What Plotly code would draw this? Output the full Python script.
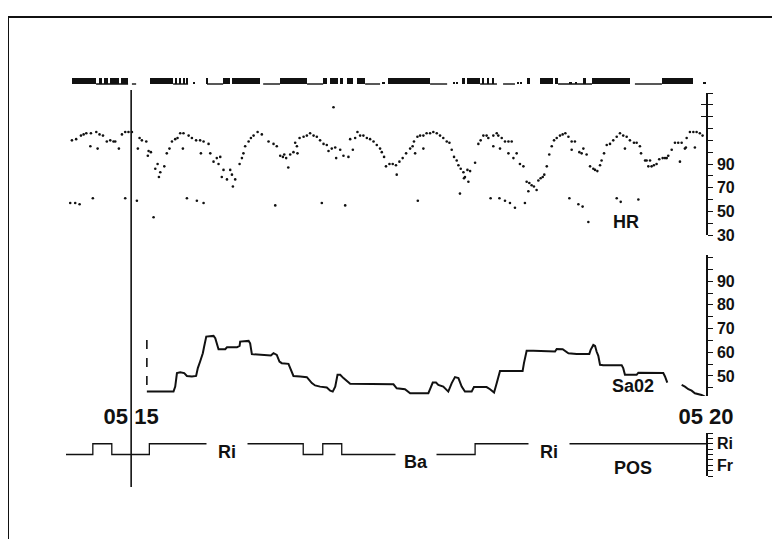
import plotly.graph_objects as go

# ---------------- DATA (time in seconds after 05:15:00) ----------------
time_ticks = [0, 300]
time_labels = ["05 15", "05 20"]

# event marker row: solid blocks, short marks, thin baseline pieces (start, end)
ev_blocks = [(-30.8, -18.3), (-16.7, -15.1), (-14.1, -12.0), (-11.0, -6.3), (-5.2, -1.6),
             (9.9, 21.9), (23.0, 24.0), (25.0, 26.1), (27.1, 28.2), (28.7, 29.7),
             (39.5, 40.2), (48.0, 51.6), (52.7, 67.3), (77.7, 91.8),
             (100.2, 102.3), (103.8, 108.0), (109.0, 110.6), (112.7, 115.8), (117.9, 122.1),
             (134.1, 156.0), (172.7, 174.2), (175.3, 182.1), (183.1, 184.1), (185.7, 186.8),
             (188.3, 189.4), (206.6, 208.2), (213.4, 220.1), (221.2, 222.8), (235.8, 237.4),
             (240.5, 260.3), (277.0, 293.2)]
ev_marks = [(32.3, 33.4), (130.9, 132.5), (168.0, 169.0), (169.6, 170.6), (201.4, 202.4),
            (202.9, 204.0), (229.0, 230.0), (231.6, 232.7), (298.4, 300.5)]
ev_base = [(-18.3, -1.6), (0.4, 2.6), (21.9, 29.7), (39.6, 48.0), (68.9, 77.7), (91.8, 100.2),
           (122.1, 129.9), (156.0, 164.9), (182.1, 190.9), (194.1, 200.3), (222.8, 240.5),
           (262.9, 277.0)]

# heart rate (beats/min) dots
hr_t = [-30.9, -28.7, -26.2, -24.8, -23.4, -21.0, -18.2, -16.5, -14.7, -21.3, -17.5, -12.7, -10.9,
        -9.2, -8.3, -6.4, -4.8, -3.1, -1.4, 0.4, 4.4, 5.6, 7.9, 3.5, 9.1, 10.3, 8.7, 12.6, 13.8,
        15.2, 14.5, 17.3, 18.6, 20.0, 21.3, 23.0, 24.2, 25.6, 27.3, 30.0, 31.7, 33.9, 36.0, 37.8,
        40.4, 27.0, 36.4, 41.3, 43.0, 44.7, 46.5, 45.6, 48.2, 47.3, 50.0, 51.7, 52.6, 54.3, 53.1,
        56.6, 57.8, 58.6, 59.5, 61.3, 62.5, 63.9, 66.0, 68.2, 71.7, 74.3, 76.0, 77.8, 79.2, 79.9,
        80.9, 82.0, 83.0, 84.7, 85.6, 86.8, 86.5, 87.9, 90.0, 91.7, 93.4, 95.2, 96.9, 98.6, 100.4,
        102.1, 103.0, 104.7, 106.5, 109.1, 107.0, 110.8, 113.4, 114.3, 115.7, 116.9, 118.1, 119.5,
        121.2, 123.0, 124.7, 126.5, 128.2, 129.9,
        -31.8, -29.2, -26.9, -20.0, -3.1, 3.0, 11.7, 29.1, 34.3, 37.8, 75.2, 99.5, 111.7, 105.6,
        130.8, 132.0, 133.0, 134.8, 136.5, 138.2, 138.6, 140.0, 141.7, 143.5, 145.6, 146.9, 148.2,
        147.6, 149.4, 150.8, 152.5, 154.2, 156.0, 157.7, 159.5, 161.2, 162.9, 164.7, 166.1, 152.5,
        167.3, 168.5, 169.9, 170.8, 172.0, 173.4, 174.2, 175.5, 176.9, 173.7, 176.0, 179.5, 171.6,
        149.6, 181.2, 182.4, 183.8, 185.5, 186.4, 189.0, 190.8, 191.6, 193.4, 195.1, 196.9, 198.6,
        189.0, 192.5, 196.9, 199.5, 201.2, 202.9, 204.7, 187.6, 192.2, 195.1, 197.7, 200.3, 205.5,
        206.4, 207.8, 209.0, 207.3, 210.2, 211.6, 212.5, 213.7, 214.8, 215.6, 216.9, 218.2, 219.5,
        220.7, 222.1, 223.8, 225.2, 226.6, 228.2, 229.9, 231.6, 229.9, 233.9, 236.0, 237.7, 235.1,
        228.7, 233.4, 235.6, 238.6, 239.5, 241.2, 242.1, 243.3, 244.7, 245.5, 246.8, 248.2, 249.9,
        251.6, 253.4, 255.1, 256.8, 258.6, 257.7, 260.3, 262.4, 263.8, 265.5, 266.1, 253.4, 255.5,
        264.7, 268.2, 269.0, 270.8, 269.9, 271.6, 272.8, 274.2, 275.6, 277.4, 278.6, 279.5, 280.3,
        282.1, 283.8, 285.5, 286.4, 287.3, 289.0, 289.9, 291.6, 293.4, 295.1, 296.8, 298.2, 294.2,
        289.5]
hr_v = [110, 111, 114, 115, 116, 116, 117, 115, 114, 105, 103, 109, 110,
        109, 109, 103, 115, 117, 117, 117, 112, 110, 109, 103, 101, 100, 97, 86, 90,
        83, 79, 88, 99, 103, 109, 111, 112, 116, 116, 114, 112, 110, 110, 109,
        107, 103, 99, 99, 92, 95, 96, 90, 85, 79, 77, 85, 81, 77, 71,
        90, 95, 99, 105, 109, 112, 114, 117, 115, 109, 107, 105, 97, 96, 98,
        95, 87, 98, 100, 108, 99, 105, 112, 113, 114, 116, 114, 113, 110, 107,
        106, 101, 103, 104, 102, 95, 97, 96, 111, 102, 112, 117, 114,
        114, 112, 111, 109, 106, 103,
        57, 57, 56, 61, 61, 59, 45, 61, 59, 57, 55, 57, 55, 138,
        100, 96, 88, 90, 90, 89, 81, 92, 95, 99, 103, 105, 99,
        109, 113, 114, 114, 116, 116, 117, 116, 114, 112, 109, 108, 103,
        102, 96, 93, 89, 86, 83, 79, 85, 84, 78, 75, 91, 65,
        59, 107, 110, 114, 114, 112, 114, 116, 114, 112, 109, 109, 109,
        105, 103, 99, 95, 99, 90, 88, 61, 61, 59, 57, 53, 57,
        75, 74, 72, 67, 71, 68, 76, 78, 79, 81, 88, 98, 105,
        110, 112, 114, 115, 116, 113, 109, 109, 102, 100, 103, 98, 99,
        61, 56, 54, 41, 88, 86, 85, 84, 89, 93, 99, 106, 107,
        110, 113, 116, 114, 113, 103, 110, 108, 108, 105, 99, 61, 58,
        60, 93, 93, 93, 88, 88, 89, 90, 94, 95, 95, 95, 97,
        102, 108, 108, 92, 108, 103, 112, 117, 117, 117, 116, 114, 104,
        104]

# oxygen saturation trace (None = gap)
sao2_t = [8.2, 22.1, 23.0, 23.9, 25.6, 27.7, 29.1, 31.7, 33.9, 34.8, 36.0, 37.4, 38.1, 39.2, 43.0,
          43.9, 45.6, 49.1, 50.0, 55.2, 56.6, 56.9, 61.3, 62.1, 63.0, 67.3, 72.9, 74.3, 76.0, 77.4,
          78.6, 82.1, 83.0, 84.7, 88.2, 91.7, 94.3, 96.0, 98.6, 102.1, 103.9, 105.2, 106.5, 107.7,
          109.1, 110.8, 114.3, 119.5, 128.2, 136.9, 138.6, 142.9, 145.6, 155.1, 156.0, 157.4, 159.1,
          160.3, 162.9, 165.5, 167.3, 169.0, 170.8, 172.5, 174.2, 177.7, 178.9, 185.5, 187.3, 189.4,
          190.8, 192.5, 193.4, 204.3, 205.0, 206.4, 209.9, 221.2, 222.1, 225.2, 228.2, 232.5, 239.1,
          239.8, 241.2, 242.1, 242.9, 243.8, 244.7, 246.4, 256.0, 256.8, 257.7, 259.5, 263.8, 264.7,
          269.0, 277.7, 278.6, 279.8, None, 287.3, 289.0, 290.8, 292.5, 294.2, 296.0, 297.7, 299.5]
sao2_v = [43.4, 43.4, 45.5, 51.2, 51.6, 51.2, 50.0, 49.8, 50.0, 53.3, 56.1, 59.6, 62.4, 66.6, 66.9,
          65.9, 61.3, 61.3, 62.1, 62.1, 62.7, 64.5, 64.8, 63.8, 59.2, 58.9, 58.6, 59.6, 58.9, 56.1,
          55.4, 55.1, 53.3, 50.0, 49.8, 49.5, 47.0, 46.0, 45.5, 45.1, 43.8, 43.4, 45.5, 50.5,
          50.5, 49.1, 46.7, 46.7, 46.7, 46.5, 44.8, 44.4, 42.7, 42.7, 44.4, 47.2, 47.2,
          46.2, 45.5, 43.4, 47.0, 49.5, 49.1, 45.5, 43.4, 43.4, 45.3, 45.3, 44.4, 43.0,
          47.0, 52.1, 52.1, 52.1, 55.4, 60.6, 60.6, 60.3, 61.4, 61.3, 59.6, 59.3, 59.3,
          61.0, 63.1, 62.7, 60.3, 58.5, 54.7, 54.5, 54.5, 53.3, 50.5, 50.5, 50.5, 51.4,
          51.4, 51.2, 49.8, 47.2, None, 46.2, 45.5, 44.4, 43.8, 42.7, 42.4, 42.0, 41.3]
sao2_mark_t = [8.2, 8.2]
sao2_mark_v = [65.2, 43.4]

# body position
pos_codes = {"Ri": 2, "Ba": 4, "Fr": 6}
pos_t = [-34, -20.0, -10.1, 9.5, 89.8, 100.0, 109.9, 179.5, 300]
pos_v = ["Ba", "Ri", "Ba", "Ri", "Ba", "Ri", "Ba", "Ri", "Ri"]
pos_labels = [("Ri", 50.0, 3.5), ("Ba", 148.7, 5.4), ("Ri", 218.0, 3.5)]

hr_ticks = list(range(30, 151, 10))
hr_ticklabels = ["30", "", "50", "", "70", "", "90", "", "", "", "", "", ""]
sao2_ticks = list(range(45, 101, 5))
sao2_ticklabels = ["", "50", "", "60", "", "70", "", "80", "", "90", "", ""]
pos_ticks = list(range(0, 9))
pos_ticklabels = ["", "", "Ri", "", "", "", "Fr", "", ""]

# ---------------- FIGURE ----------------
FONT = "Liberation Sans"
fig = go.Figure()

fig.add_trace(go.Bar(x=[(a + b) / 2 for a, b in ev_blocks], width=[b - a for a, b in ev_blocks],
                     y=[1.0] * len(ev_blocks), base=0, yaxis="y", marker=dict(color="#111", line=dict(width=0)),
                     showlegend=False, hoverinfo="skip"))
fig.add_trace(go.Bar(x=[(a + b) / 2 for a, b in ev_marks], width=[b - a for a, b in ev_marks],
                     y=[0.4] * len(ev_marks), base=0, yaxis="y", marker=dict(color="#111", line=dict(width=0)),
                     showlegend=False, hoverinfo="skip"))
bx, by = [], []
for a, b in ev_base:
    bx += [a, b, None]
    by += [0.05, 0.05, None]
fig.add_trace(go.Scatter(x=bx, y=by, mode="lines", yaxis="y", line=dict(color="#111", width=1.4),
                         showlegend=False, hoverinfo="skip"))

fig.add_trace(go.Scatter(x=hr_t, y=hr_v, mode="markers", yaxis="y2",
                         marker=dict(color="#111", size=2.6), showlegend=False))
fig.add_trace(go.Scatter(x=[None], y=[None], yaxis="y5", showlegend=False))

fig.add_trace(go.Scatter(x=sao2_t, y=sao2_v, mode="lines", yaxis="y3", connectgaps=False,
                         line=dict(color="#111", width=2), showlegend=False))
fig.add_trace(go.Scatter(x=sao2_mark_t, y=sao2_mark_v, mode="lines", yaxis="y3",
                         line=dict(color="#111", width=1.6, dash="dash"), showlegend=False))

fig.add_trace(go.Scatter(x=pos_t, y=[pos_codes[p] for p in pos_v], mode="lines", yaxis="y4",
                         line=dict(color="#111", width=1.3, shape="hv"), showlegend=False))

# plot area on the page: x 66..706, y 60..499 (page body adds an 8 px offset)
PAGE_OFF = 8


def frac(ypx):
    return (499 - ypx) / 439


tickfont = dict(family=FONT, size=16, color="#111", weight="bold")
common = dict(side="right", anchor="x", showgrid=False, zeroline=False, showline=True,
              linecolor="#111", linewidth=1.5, ticks="outside", ticklen=5, tickwidth=1.3,
              tickcolor="#111", tickfont=tickfont, ticklabelstandoff=1)

fig.update_layout(
    width=780 - PAGE_OFF, height=539 - PAGE_OFF,
    margin=dict(l=66 - PAGE_OFF, r=74, t=60 - PAGE_OFF, b=40),
    paper_bgcolor="white", plot_bgcolor="white",
    barmode="overlay", bargap=0,
    xaxis=dict(domain=[0, 1], range=[-34, 300], anchor="y3", showgrid=False, zeroline=False,
               showline=False, ticks="", tickvals=time_ticks, ticktext=time_labels,
               tickfont=dict(family=FONT, size=22, color="#111", weight="bold"), ticklabelstandoff=5),
    yaxis=dict(domain=[frac(85), frac(77)], range=[-0.1, 1.1], visible=False, anchor="x"),
    yaxis2=dict(domain=[frac(235), frac(93)], range=[30, 150], tickvals=hr_ticks,
                ticktext=hr_ticklabels, **common),
    yaxis5=dict(overlaying="y2", range=[30, 150], side="right", anchor="x", showgrid=False,
                zeroline=False, showline=False, ticks="inside", ticklen=5, tickwidth=1.3,
                tickcolor="#111", tickvals=[30, 130, 140, 150], showticklabels=False),
    yaxis3=dict(domain=[frac(396.1), frac(255.1)], range=[41.5, 101], tickvals=sao2_ticks,
                ticktext=sao2_ticklabels, **common),
    yaxis4=dict(domain=[frac(476), frac(433)], range=[8, 0], tickvals=pos_ticks,
                ticktext=pos_ticklabels, **common),
)

# 05:15 marker line and page frame
fig.add_shape(type="line", xref="x", yref="paper", x0=0, x1=0, y0=frac(487), y1=frac(90),
              line=dict(color="#111", width=1.6))
fig.add_shape(type="rect", xref="paper", yref="paper", x0=(8 - 66) / 640, x1=(773 - 66) / 640,
              y0=frac(560), y1=frac(17), line=dict(color="#111", width=2))

lab = dict(family=FONT, size=18, color="#111", weight="bold")
fig.add_annotation(text="HR", x=258, xref="x", y=frac(222), yref="paper", showarrow=False, font=lab)
fig.add_annotation(text="Sa02", x=262, xref="x", y=frac(398), yref="paper", showarrow=False, font=lab)
fig.add_annotation(text="POS", x=262, xref="x", y=6.5, yref="y4", showarrow=False, font=lab)
for txt, tx, ty in pos_labels:
    fig.add_annotation(text=txt, x=tx, xref="x", y=ty, yref="y4", showarrow=False, font=lab,
                       bgcolor="white", width=38, borderpad=1)

fig.write_html("out.html")
